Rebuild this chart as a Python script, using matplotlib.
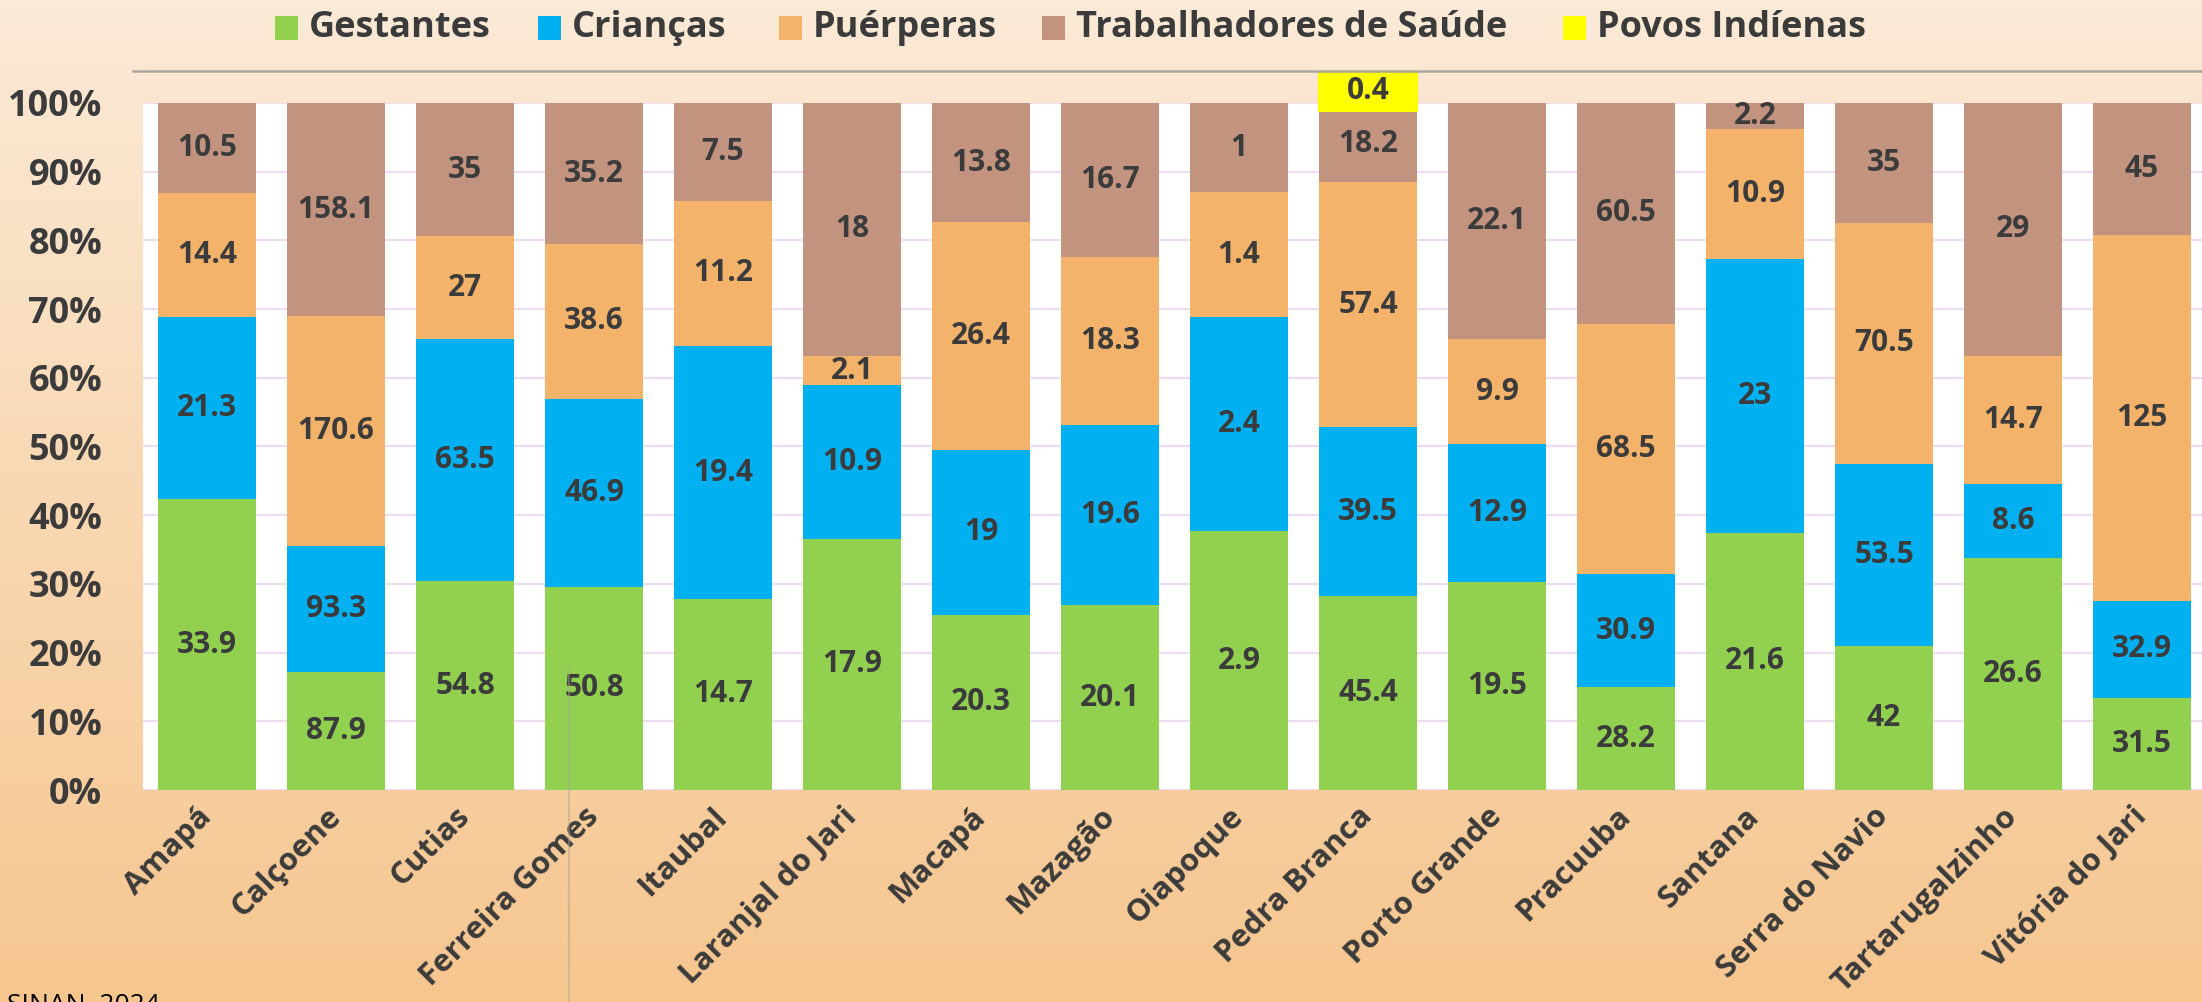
import matplotlib
matplotlib.use('Agg')
import matplotlib.pyplot as plt
import matplotlib.patches as mpatches
import matplotlib.lines as mlines
import matplotlib.transforms as mtransforms
import numpy as np


municipios = ['Amapá', 'Calçoene', 'Cutias', 'Ferreira Gomes', 'Itaubal',
              'Laranjal do Jari', 'Macapá', 'Mazagão', 'Oiapoque',
              'Pedra Branca', 'Porto Grande', 'Pracuuba', 'Santana',
              'Serra do Navio', 'Tartarugalzinho', 'Vitória do Jari']

gestantes = [33.9, 87.9, 54.8, 50.8, 14.7, 17.9, 20.3, 20.1, 2.9, 45.4,
             19.5, 28.2, 21.6, 42, 26.6, 31.5]
criancas = [21.3, 93.3, 63.5, 46.9, 19.4, 10.9, 19, 19.6, 2.4, 39.5,
            12.9, 30.9, 23, 53.5, 8.6, 32.9]
puerperas = [14.4, 170.6, 27, 38.6, 11.2, 2.1, 26.4, 18.3, 1.4, 57.4,
             9.9, 68.5, 10.9, 70.5, 14.7, 125]
trabalhadores = [10.5, 158.1, 35, 35.2, 7.5, 18, 13.8, 16.7, 1, 18.2,
                 22.1, 60.5, 2.2, 35, 29, 45]
povos = [0, 0, 0, 0, 0, 0, 0, 0, 0, 0.4, 0, 0, 0, 0, 0, 0]

series_names = ['Gestantes', 'Crianças', 'Puérperas',
                'Trabalhadores de Saúde', 'Povos Indíenas']
series_colors = ['#92D050', '#00B0F0', '#F3B36B', '#C2937F', '#FFFF00']

TXT = '#3B3B3B'
FONT = 'Open Sans'
W, H = 2202, 1002

fig = plt.figure(figsize=(W / 100, H / 100), dpi=100)

# background gradient
bg = fig.add_axes([0, 0, 1, 1], zorder=-10)
top = np.array([251, 234, 215]) / 255
bot = np.array([246, 198, 143]) / 255
t = np.linspace(0, 1, 256)[:, None]
grad = top[None, :] * (1 - t) + bot[None, :] * t
bg.imshow(grad[:, None, :], aspect='auto', extent=[0, 1, 0, 1])
bg.axis('off')

ax = fig.add_axes([142.5 / W, 1 - 790 / H, 2064 / W, 687 / H])
ax.set_facecolor('white')

data = np.array([gestantes, criancas, puerperas, trabalhadores, povos])
shares = data / data.sum(axis=0)
x = np.arange(len(municipios))
bw = 0.752

bottom = np.zeros(len(municipios))
for k in range(len(series_names)):
    ax.bar(x, shares[k], bw, bottom=bottom, color=series_colors[k],
           edgecolor='none', zorder=3)
    for i in range(len(municipios)):
        v = data[k, i]
        if v == 0:
            continue
        lbl = f'{v:g}'
        if k == 4:
            # small segment: label with yellow fill above the bar
            ax.add_patch(mpatches.Rectangle((x[i] - bw / 2 - 0.01, 0.987),
                                            bw + 0.02, 0.061,
                                            facecolor=series_colors[k],
                                            edgecolor='none', zorder=5,
                                            clip_on=False))
            ax.text(x[i], 1.0175, lbl, ha='center', va='center',
                    fontsize=21.5, fontweight='bold', color=TXT,
                    family=FONT, zorder=6, clip_on=False)
        else:
            ax.text(x[i], bottom[i] + shares[k, i] / 2, lbl, ha='center',
                    va='center', fontsize=21.5, fontweight='bold', color=TXT,
                    family=FONT, zorder=4)
    bottom += shares[k]

ax.set_xlim(-0.5, len(municipios) - 0.5)
ax.set_ylim(0, 1)
ax.set_yticks(np.arange(0, 1.01, 0.1))
ax.set_yticklabels([f'{int(round(v * 100))}%' for v in np.arange(0, 1.01, 0.1)],
                   fontsize=26, fontweight='bold', color=TXT, family=FONT)
ax.set_xticks(x)
ax.set_xticklabels(municipios, rotation=45, ha='right', va='center',
                   rotation_mode='anchor', fontsize=22.5, fontweight='bold',
                   color=TXT, family=FONT)
shift = mtransforms.ScaledTranslation(9 / 100, -5 / 100, fig.dpi_scale_trans)
for lab in ax.get_xticklabels():
    lab.set_transform(lab.get_transform() + shift)
ax.tick_params(axis='y', length=0, pad=29)
ax.tick_params(axis='x', length=0, pad=16)
ax.grid(axis='y', color='#EDDDF3', linewidth=1.6, zorder=1)
ax.set_axisbelow(True)
for s in ax.spines.values():
    s.set_visible(False)

# rule under the legend
fig.add_artist(mlines.Line2D([133 / W, 1], [1 - 71 / H, 1 - 71 / H],
                             color='#A9A49F', linewidth=1.8))

# legend
marker_left = [275, 538, 779, 1042, 1563]
ly = 1 - 28 / H
for name, col, ml in zip(series_names, series_colors, marker_left):
    fig.add_artist(mpatches.Rectangle((ml / W, ly - 11.5 / H), 23 / W, 23 / H,
                                      facecolor=col, edgecolor='none',
                                      transform=fig.transFigure))
    fig.text((ml + 34) / W, ly, name, ha='left', va='center', fontsize=26,
             fontweight='bold', color=TXT, family=FONT)

# stray vertical line near Ferreira Gomes
fig.add_artist(mlines.Line2D([569 / W, 569 / W], [0, 1 - 670 / H],
                             color='#B0A090', alpha=0.45, linewidth=1.5,
                             zorder=10))

fig.text(7 / W, 1 - 993 / H, 'SINAN, 2024', ha='left', va='top',
         fontsize=19, color='black', family=FONT)

fig.savefig('out.png', dpi=100)
